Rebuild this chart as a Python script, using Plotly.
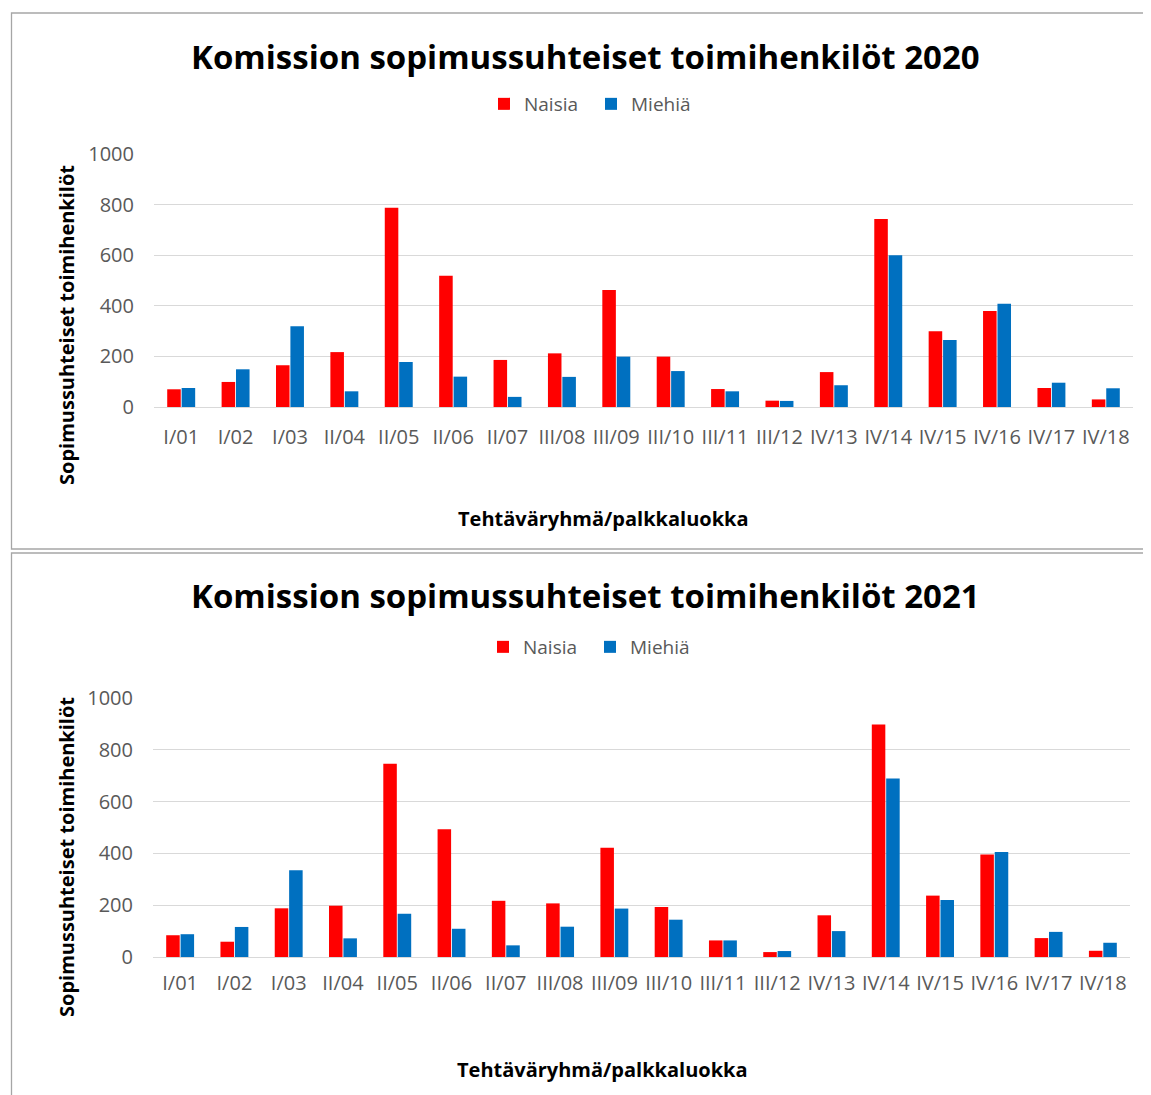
import plotly.graph_objects as go

categories = ["I/01", "I/02", "I/03", "II/04", "II/05", "II/06", "II/07", "III/08", "III/09",
              "III/10", "III/11", "III/12", "IV/13", "IV/14", "IV/15", "IV/16", "IV/17", "IV/18"]

naisia_2020 = [70, 99, 165, 217, 788, 519, 186, 212, 462, 199, 71, 25, 138, 743, 299, 379, 75, 30]
miehia_2020 = [75, 149, 319, 62, 178, 120, 40, 119, 199, 142, 62, 24, 86, 600, 265, 408, 96, 74]

naisia_2021 = [84, 59, 188, 198, 746, 493, 217, 207, 422, 193, 64, 19, 161, 898, 237, 396, 73, 24]
miehia_2021 = [88, 116, 335, 72, 167, 109, 45, 117, 187, 144, 64, 23, 100, 689, 220, 405, 97, 55]

y_ticks = [0, 200, 400, 600, 800, 1000]

titles = ["Komission sopimussuhteiset toimihenkilöt 2020",
          "Komission sopimussuhteiset toimihenkilöt 2021"]
y_title = "Sopimussuhteiset toimihenkilöt"
x_title = "Tehtäväryhmä/palkkaluokka"
series_names = ["Naisia", "Miehiä"]

RED = "#ff0000"
BLUE = "#0070c0"
GRID = "#d9d9d9"
TICK = "#595959"
FONT = "Open Sans"

W, H = 1151, 1095
OFF = 8  # page body margin


def px(x):
    return (x - OFF) / W


def py(y):
    return 1 - (y - OFF) / H


fig = go.Figure()

fig.add_trace(go.Bar(x=categories, y=naisia_2020, name=series_names[0], marker_color=RED,
                     marker_line_width=0, xaxis="x", yaxis="y", legend="legend"))
fig.add_trace(go.Bar(x=categories, y=miehia_2020, name=series_names[1], marker_color=BLUE,
                     marker_line_width=0, xaxis="x", yaxis="y", legend="legend"))
fig.add_trace(go.Bar(x=categories, y=naisia_2021, name=series_names[0], marker_color=RED,
                     marker_line_width=0, xaxis="x2", yaxis="y2", legend="legend2"))
fig.add_trace(go.Bar(x=categories, y=miehia_2021, name=series_names[1], marker_color=BLUE,
                     marker_line_width=0, xaxis="x2", yaxis="y2", legend="legend2"))

xaxis_common = dict(showgrid=False, showline=False, zeroline=False, ticks="", automargin=False,
                    tickfont=dict(family=FONT, size=20, color=TICK),
                    fixedrange=True)
yaxis_common = dict(range=[0, 1000], tickvals=y_ticks, showgrid=True, gridcolor=GRID, gridwidth=1.3,
                    zeroline=True, zerolinecolor=GRID, zerolinewidth=1.3, showline=False, ticks="",
                    automargin=False,
                    tickfont=dict(family=FONT, size=20, color=TICK), ticklabelstandoff=19,
                    fixedrange=True)

legend_common = dict(orientation="h", xanchor="left", yanchor="middle",
                     font=dict(family=FONT, size=19, color=TICK), bgcolor="rgba(0,0,0,0)",
                     itemwidth=30, entrywidth=62, tracegroupgap=0)

annotations = [
    dict(text="<b>" + titles[0] + "</b>", x=px(586), y=py(57), xref="paper", yref="paper",
         showarrow=False, font=dict(family=FONT, size=33, color="#000000"), xanchor="center", yanchor="middle"),
    dict(text="<b>" + titles[1] + "</b>", x=px(585), y=py(595), xref="paper", yref="paper",
         showarrow=False, font=dict(family=FONT, size=33, color="#000000"), xanchor="center", yanchor="middle"),
    dict(text="<b>" + y_title + "</b>", x=px(66), y=py(325), xref="paper", yref="paper", textangle=-90,
         showarrow=False, font=dict(family=FONT, size=20, color="#000000"), xanchor="center", yanchor="middle"),
    dict(text="<b>" + y_title + "</b>", x=px(66), y=py(857), xref="paper", yref="paper", textangle=-90,
         showarrow=False, font=dict(family=FONT, size=20, color="#000000"), xanchor="center", yanchor="middle"),
    dict(text="<b>" + x_title + "</b>", x=px(603), y=py(518), xref="paper", yref="paper",
         showarrow=False, font=dict(family=FONT, size=20, color="#000000"), xanchor="center", yanchor="middle"),
    dict(text="<b>" + x_title + "</b>", x=px(602), y=py(1069), xref="paper", yref="paper",
         showarrow=False, font=dict(family=FONT, size=20, color="#000000"), xanchor="center", yanchor="middle"),
]

BORDER = "#a6a6a6"
shapes = [
    dict(type="rect", xref="paper", yref="paper", x0=px(11.5), x1=px(1175), y0=py(549), y1=py(13),
         line=dict(color=BORDER, width=1.3), fillcolor="rgba(0,0,0,0)", layer="below"),
    dict(type="rect", xref="paper", yref="paper", x0=px(11.5), x1=px(1175), y0=py(1120), y1=py(553),
         line=dict(color=BORDER, width=1.3), fillcolor="rgba(0,0,0,0)", layer="below"),
]

fig.update_layout(
    width=W, height=H,
    margin=dict(l=0, r=0, t=0, b=0, autoexpand=False),
    paper_bgcolor="white", plot_bgcolor="white",
    barmode="group", bargap=0.47, bargroupgap=0.06,
    xaxis=dict(domain=[px(154), px(1133)], anchor="y", ticklabelstandoff=16, **xaxis_common),
    yaxis=dict(domain=[py(407), py(154)], anchor="x", **yaxis_common),
    xaxis2=dict(domain=[px(153), px(1130)], anchor="y2", ticklabelstandoff=12, **xaxis_common),
    yaxis2=dict(domain=[py(957), py(698)], anchor="x2", **yaxis_common),
    legend=dict(x=px(484), y=py(104), **legend_common),
    legend2=dict(x=px(483), y=py(647), **legend_common),
    annotations=annotations,
    shapes=shapes,
    showlegend=True,
)

fig.write_html("out.html")
